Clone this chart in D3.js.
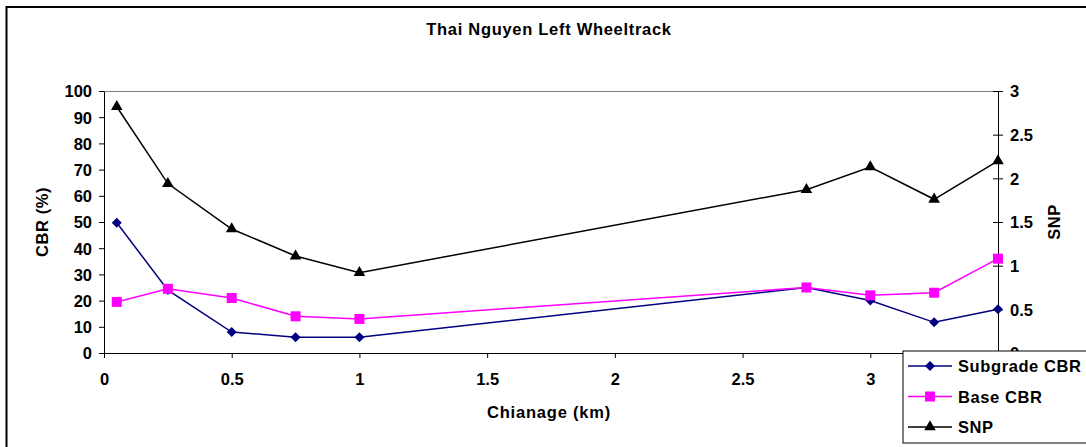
<!DOCTYPE html>
<html><head><meta charset="utf-8">
<script src="https://cdn.jsdelivr.net/npm/d3@7"></script>
<style>body{margin:0;background:#fff}svg{display:block}text{font-family:"Liberation Sans",Arial,sans-serif;font-weight:bold;fill:#000}</style>
</head><body>
<script>
const chainage = [0.05, 0.25, 0.5, 0.75, 1.0, 2.75, 3.0, 3.25, 3.5];
const subgradeCBR = [49.7, 24, 8, 6, 6, 25, 20, 11.7, 16.7];
const baseCBR = [19.5, 24.5, 21, 14, 13, 25, 22, 23, 36];
const snp = [2.82, 1.94, 1.42, 1.11, 0.92, 1.87, 2.13, 1.76, 2.20];
const xTicks = [0, 0.5, 1, 1.5, 2, 2.5, 3];
const leftTicks = [0,10,20,30,40,50,60,70,80,90,100];
const rightTicks = [0,0.5,1,1.5,2,2.5,3];
const seriesNames = ["Subgrade CBR","Base CBR","SNP"];

const W=1086,H=447;
const svg=d3.select("body").append("svg").attr("width",W).attr("height",H);
svg.append("rect").attr("x",6.5).attr("y",7).attr("width",1100).attr("height",460).attr("fill","none").attr("stroke","#000").attr("stroke-width",2);

const L=104,R=998,T=91,B=353;
const x=d3.scaleLinear().domain([0,3.5]).range([L,R]);
const yL=d3.scaleLinear().domain([0,100]).range([B,T]);
const yR=d3.scaleLinear().domain([0,3]).range([B,T]);

svg.append("line").attr("x1",L).attr("x2",R).attr("y1",T+0.5).attr("y2",T+0.5).attr("stroke","#808080");

const FS=16.5;
const ax=svg.append("g").attr("transform",`translate(0,${B})`).call(d3.axisBottom(x).tickValues(xTicks).tickFormat(d3.format("")).tickSize(5).tickSizeOuter(0));
const ay=svg.append("g").attr("transform",`translate(${L},0)`).call(d3.axisLeft(yL).tickValues(leftTicks).tickSize(5).tickSizeOuter(0));
const ar=svg.append("g").attr("transform",`translate(${R},0)`).call(d3.axisRight(yR).tickValues(rightTicks).tickFormat(d3.format("")).tickSize(5).tickSizeOuter(0));
ar.selectAll(".tick line").attr("x1",-5);
[ax,ay,ar].forEach(g=>{g.selectAll("path,line").attr("stroke","#000");g.selectAll("text").attr("font-size",FS).attr("font-family","Liberation Sans, Arial").attr("font-weight","bold").attr("fill","#000");});
ax.selectAll("text").attr("y",32).attr("dy",0);
ay.selectAll("text").attr("x",-12).attr("dy","0.36em");
ar.selectAll("text").attr("x",12).attr("dy","0.36em");

svg.append("text").attr("x",549).attr("y",35).attr("text-anchor","middle").attr("font-size",FS).attr("letter-spacing",0.7).text("Thai Nguyen Left Wheeltrack");
svg.append("text").attr("x",549).attr("y",418).attr("text-anchor","middle").attr("font-size",FS).attr("letter-spacing",0.8).text("Chianage (km)");
svg.append("text").attr("transform","translate(48,222) rotate(-90)").attr("text-anchor","middle").attr("font-size",FS).attr("letter-spacing",0.6).text("CBR (%)");
svg.append("text").attr("transform","translate(1060,222) rotate(-90)").attr("text-anchor","middle").attr("font-size",FS).attr("letter-spacing",0.6).text("SNP");

const line=(ys,sc)=>d3.line().x((d,i)=>x(chainage[i])).y(d=>sc(d))(ys);
const diamond="M0,-5L5,0L0,5L-5,0Z";
const square="M-5,-5H5V5H-5Z";
const tri=d3.symbol().type(d3.symbolTriangle).size(58)();

function series(vals,sc,color,sym){
  svg.append("path").attr("d",line(vals,sc)).attr("fill","none").attr("stroke",color).attr("stroke-width",1.5);
  svg.selectAll(null).data(vals).enter().append("path").attr("d",sym)
    .attr("transform",(d,i)=>`translate(${x(chainage[i])},${sc(d)})`).attr("fill",color);
}
series(snp,yR,"#000",tri);
series(subgradeCBR,yL,"#000080",diamond);
series(baseCBR,yL,"#ff00ff",square);

const lg=svg.append("g");
lg.append("rect").attr("x",903).attr("y",351).attr("width",200).attr("height",92).attr("fill","#fff").attr("stroke","#000");
const cols=["#000080","#ff00ff","#000"],syms=[diamond,square,tri];
seriesNames.forEach((n,i)=>{
  const yy=366+i*30.5;
  lg.append("line").attr("x1",908).attr("x2",952).attr("y1",yy).attr("y2",yy).attr("stroke",cols[i]).attr("stroke-width",1.5);
  lg.append("path").attr("d",syms[i]).attr("transform",`translate(930,${yy})`).attr("fill",cols[i]);
  lg.append("text").attr("x",958).attr("y",yy+6).attr("font-size",FS).attr("letter-spacing",0.6).text(n);
});
</script>
</body></html>
